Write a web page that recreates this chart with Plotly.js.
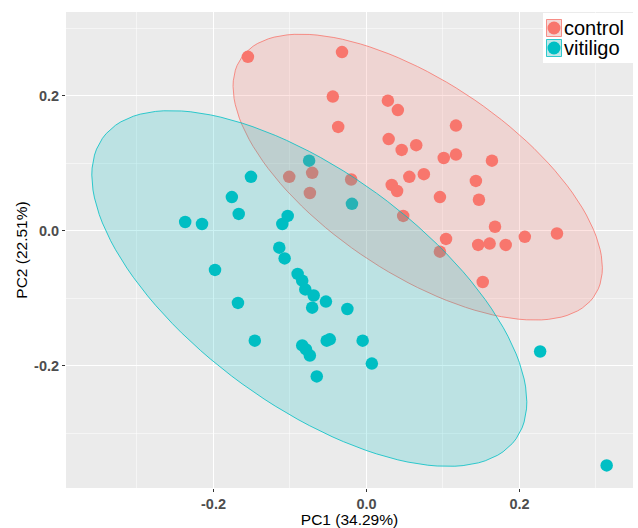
<!DOCTYPE html>
<html>
<head>
<meta charset="utf-8">
<script src="https://cdn.plot.ly/plotly-3.0.1.min.js"></script>
<style>html,body{margin:0;padding:0;background:#fff;}#chart{width:638px;height:528px;}</style>
</head>
<body>
<div id="chart"></div>
<script>
// ---- data ----
var groups = ['control', 'vitiligo'];
var controlPC1 = [-0.155,-0.032,-0.044,0.028,0.041,-0.037,0.029,0.046,0.065,0.117,0.101,0.117,0.164,0.056,0.075,0.033,0.040,0.143,0.096,0.147,0.048,0.168,0.104,0.146,0.161,0.182,0.207,0.249,0.096,0.152,-0.101,-0.071,-0.074,-0.020];
var controlPC2 = [0.258,0.265,0.199,0.193,0.179,0.154,0.136,0.120,0.127,0.156,0.108,0.113,0.104,0.080,0.084,0.068,0.059,0.074,0.050,0.046,0.022,0.006,-0.012,-0.021,-0.019,-0.021,-0.009,-0.004,-0.031,-0.076,0.080,0.086,0.056,0.076];
var vitiligoPC1 = [-0.075,-0.019,-0.151,-0.176,-0.167,-0.237,-0.215,-0.103,-0.110,-0.114,-0.107,-0.198,-0.090,-0.084,-0.080,-0.069,-0.071,-0.053,-0.025,-0.168,-0.146,-0.084,-0.079,-0.074,-0.052,-0.048,-0.005,0.007,-0.065,0.227,0.314];
var vitiligoPC2 = [0.104,0.040,0.080,0.050,0.025,0.013,0.010,0.022,0.010,-0.025,-0.041,-0.058,-0.064,-0.074,-0.087,-0.096,-0.114,-0.105,-0.116,-0.107,-0.163,-0.170,-0.176,-0.185,-0.163,-0.161,-0.163,-0.197,-0.216,-0.179,-0.348];
var xTickVals = [-0.2, 0, 0.2];
var xTickText = ['-0.2', '0.0', '0.2'];
var yTickVals = [-0.2, 0, 0.2];
var yTickText = ['-0.2', '0.0', '0.2'];
var xTitle = 'PC1 (34.29%)';
var yTitle = 'PC2 (22.51%)';
var ellipseLevel = 0.95;

var colors = {control: '#F8766D', vitiligo: '#00BFC4'};
var fills = {control: 'rgba(248,118,109,0.2)', vitiligo: 'rgba(0,191,196,0.2)'};

// ---- ggplot2 stat_ellipse(type = "norm"): classical covariance, F-based radius ----
function covNorm(xs, ys) {
  var n = xs.length, i, mx = 0, my = 0;
  for (i = 0; i < n; i++) { mx += xs[i]; my += ys[i]; }
  mx /= n; my /= n;
  var a = 0, b = 0, c = 0;
  for (i = 0; i < n; i++) {
    var dx = xs[i] - mx, dy = ys[i] - my;
    a += dx * dx; b += dx * dy; c += dy * dy;
  }
  return {center: [mx, my], cov: [a / (n - 1), b / (n - 1), c / (n - 1)]};
}
function ellipsePath(xs, ys, level, segments) {
  var est = covNorm(xs, ys);
  var dfd = xs.length - 1;
  var fq = (dfd / 2) * (Math.pow(1 - level, -2 / dfd) - 1); // qf(level, 2, dfd)
  var radius = Math.sqrt(2 * fq);
  var r11 = Math.sqrt(est.cov[0]);
  var r12 = est.cov[1] / r11;
  var r22 = Math.sqrt(est.cov[2] - r12 * r12);
  var ex = [], ey = [];
  for (var k = 0; k <= segments; k++) {
    var t = k * 2 * Math.PI / segments;
    var u = Math.cos(t), v = Math.sin(t);
    ex.push(est.center[0] + radius * (u * r11));
    ey.push(est.center[1] + radius * (u * r12 + v * r22));
  }
  return {x: ex, y: ey};
}

var dataX = {control: controlPC1, vitiligo: vitiligoPC1};
var dataY = {control: controlPC2, vitiligo: vitiligoPC2};

var traces = [];
groups.forEach(function (g) {
  traces.push({
    type: 'scatter', mode: 'markers', name: g, showlegend: false,
    x: dataX[g], y: dataY[g],
    marker: {color: colors[g], size: 12.5, line: {width: 0}},
    hoverinfo: 'x+y+name'
  });
});
groups.forEach(function (g) {
  var e = ellipsePath(dataX[g], dataY[g], ellipseLevel, 120);
  traces.push({
    type: 'scatter', mode: 'lines', name: g + ' ellipse', showlegend: false,
    x: e.x, y: e.y, fill: 'toself', fillcolor: fills[g],
    line: {color: colors[g], width: 0.8}, hoverinfo: 'skip'
  });
});

// manual ggplot-style legend (keys + labels)
var plotL = 66, plotR = 633, plotT = 12, plotB = 488;
function px2paperX(px) { return (px - plotL) / (plotR - plotL); }
function px2paperY(py) { return (plotB - py) / (plotB - plotT); }
var shapes = [{
  type: 'rect', xref: 'paper', yref: 'paper', layer: 'above',
  x0: px2paperX(543), x1: px2paperX(633), y0: px2paperY(63), y1: px2paperY(13),
  fillcolor: '#FFFFFF', line: {width: 0}
}];
var annotations = [];
groups.forEach(function (g, i) {
  var top = 19 + i * 20, bot = top + 18;
  shapes.push({
    type: 'rect', xref: 'paper', yref: 'paper', layer: 'above',
    x0: px2paperX(546), x1: px2paperX(562), y0: px2paperY(bot), y1: px2paperY(top),
    fillcolor: '#F2F2F2', line: {width: 0}
  });
  shapes.push({
    type: 'rect', xref: 'paper', yref: 'paper', layer: 'above',
    x0: px2paperX(546.5), x1: px2paperX(561.5), y0: px2paperY(bot - 0.5), y1: px2paperY(top + 0.5),
    fillcolor: fills[g], line: {color: colors[g], width: 0.8}
  });
  var cx = px2paperX(554), cy = px2paperY((top + bot) / 2);
  shapes.push({
    type: 'circle', xref: 'paper', yref: 'paper', layer: 'above',
    xsizemode: 'pixel', ysizemode: 'pixel', xanchor: cx, yanchor: cy,
    x0: -6.5, x1: 6.5, y0: -6.5, y1: 6.5,
    fillcolor: colors[g], line: {width: 0}
  });
  annotations.push({
    xref: 'paper', yref: 'paper', x: px2paperX(562), y: cy,
    xanchor: 'left', yanchor: 'middle', showarrow: false, text: g,
    font: {family: 'Liberation Sans, Arial, sans-serif', size: 20, color: '#000000'}
  });
});

var axisCommon = {
  showline: false, zeroline: false,
  showgrid: true, gridcolor: '#FFFFFF', gridwidth: 1.1,
  ticks: 'outside', ticklen: 3, tickwidth: 1, tickcolor: '#333333',
  tickfont: {family: 'Liberation Sans, Arial, sans-serif', size: 14.5, color: '#4D4D4D', weight: 'bold'},
  minor: {dtick: 0.1, tick0: 0, showgrid: true, gridcolor: '#FFFFFF', gridwidth: 0.5, ticks: ''}
};

var layout = {
  width: 638, height: 528,
  margin: {l: plotL, r: 638 - plotR, t: plotT, b: 528 - plotB, pad: 0},
  paper_bgcolor: '#FFFFFF', plot_bgcolor: '#EBEBEB',
  showlegend: false,
  xaxis: Object.assign({}, axisCommon, {
    range: [-0.3928, 0.3484], tickmode: 'array', tickvals: xTickVals, ticktext: xTickText,
    title: {text: xTitle, standoff: 5, font: {family: 'Liberation Sans, Arial, sans-serif', size: 15.5, color: '#000000'}}
  }),
  yaxis: Object.assign({}, axisCommon, {
    range: [-0.3815, 0.3245], tickmode: 'array', tickvals: yTickVals, ticktext: yTickText,
    title: {text: yTitle, standoff: 2, font: {family: 'Liberation Sans, Arial, sans-serif', size: 15.5, color: '#000000'}}
  }),
  shapes: shapes,
  annotations: annotations
};

Plotly.newPlot('chart', traces, layout, {displayModeBar: false, staticPlot: true});
</script>
</body>
</html>
